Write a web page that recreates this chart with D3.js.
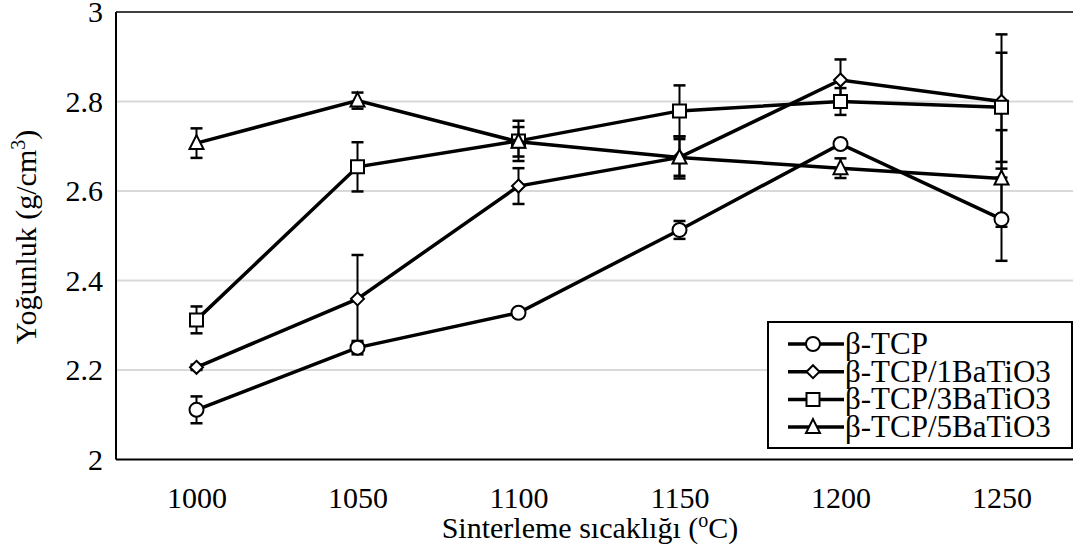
<!DOCTYPE html>
<html><head><meta charset="utf-8">
<script src="https://cdn.jsdelivr.net/npm/d3@7"></script>
<style>body{margin:0;background:#fff;} svg{display:block;} text{font-family:"Liberation Serif","Times New Roman",serif;}</style>
</head><body>
<svg id="c" width="1073" height="553"></svg>
<script>
const categories = [1000, 1050, 1100, 1150, 1200, 1250];
const yTicks = [2, 2.2, 2.4, 2.6, 2.8, 3];
const seriesNames = ["β-TCP", "β-TCP/1BaTiO3", "β-TCP/3BaTiO3", "β-TCP/5BaTiO3"];
const seriesMarkers = ["circle", "diamond", "square", "triangle"];
const tcp      = [2.111, 2.250, 2.328, 2.513, 2.705, 2.537];
const tcpErr   = [0.030, 0.015, 0.008, 0.020, 0.010, 0.093];
const ba1      = [2.206, 2.359, 2.611, 2.675, 2.848, 2.800];
const ba1Err   = [0.006, 0.098, 0.040, 0.041, 0.046, 0.150];
const ba3      = [2.312, 2.654, 2.712, 2.779, 2.800, 2.787];
const ba3Err   = [0.030, 0.055, 0.045, 0.057, 0.030, 0.122];
const ba5      = [2.707, 2.802, 2.710, 2.675, 2.651, 2.628];
const ba5Err   = [0.033, 0.018, 0.033, 0.047, 0.022, 0.108];
const values = [tcp, ba1, ba3, ba5];
const errors = [tcpErr, ba1Err, ba3Err, ba5Err];

const FONT = "Liberation Serif";
const svg = d3.select("#c");
const L = 116, R = 1082, T = 12, B = 459.5;
const x = d3.scalePoint().domain(categories).range([L, R]).padding(0.5);
const y = d3.scaleLinear().domain([2, 3]).range([B, T]);

// gridlines
svg.append("g").selectAll("line").data(yTicks.filter(d => d > 2 && d < 3)).join("line")
  .attr("x1", L).attr("x2", R).attr("y1", d => y(d)).attr("y2", d => y(d))
  .attr("stroke", "#d9d9d9").attr("stroke-width", 2);

// plot border
svg.append("line").attr("x1", L).attr("x2", R).attr("y1", T).attr("y2", T).attr("stroke", "#404040").attr("stroke-width", 2);
svg.append("line").attr("x1", L).attr("x2", L).attr("y1", T).attr("y2", B).attr("stroke", "#000").attr("stroke-width", 2);
svg.append("line").attr("x1", L).attr("x2", R).attr("y1", B).attr("y2", B).attr("stroke", "#000").attr("stroke-width", 2);

// axes labels
const yAxis = d3.axisLeft(y).tickValues(yTicks).tickSize(0).tickPadding(13).tickFormat(d3.format("~g"));
const gy = svg.append("g").attr("transform", `translate(${L},0)`).call(yAxis);
gy.select(".domain").remove();
gy.attr("font-family", FONT).attr("font-size", 30);
gy.selectAll("text").attr("fill", "#000");

const xAxis = d3.axisBottom(x).tickSize(0).tickPadding(27);
const gx = svg.append("g").attr("transform", `translate(0,${B})`).call(xAxis);
gx.select(".domain").remove();
gx.attr("font-family", FONT).attr("font-size", 30);
gx.selectAll("text").attr("fill", "#000");

// axis titles
const xt = svg.append("text").attr("x", 590).attr("y", 538).attr("text-anchor", "middle")
  .attr("font-family", FONT).attr("font-size", 30).attr("fill", "#000");
xt.append("tspan").text("Sinterleme sıcaklığı (");
xt.append("tspan").text("o").attr("font-size", 20).attr("dy", -11);
xt.append("tspan").text("C)").attr("dy", 11);

const yt = svg.append("text").attr("transform", `translate(36,237) rotate(-90)`)
  .attr("text-anchor", "middle").attr("font-family", FONT).attr("font-size", 30).attr("fill", "#000");
yt.append("tspan").text("Yoğunluk (g/cm");
yt.append("tspan").text("3").attr("font-size", 20).attr("dy", -11);
yt.append("tspan").text(")").attr("dy", 11);

function drawMarker(g, type, cx, cy) {
  const s = g.append("path").attr("fill", "#fff").attr("stroke", "#000").attr("stroke-width", 2);
  let p;
  if (type === "circle") {
    p = d3.path(); p.arc(cx, cy, 7, 0, 2 * Math.PI);
  } else if (type === "square") {
    p = d3.path(); p.rect(cx - 6.5, cy - 6.5, 13, 13);
  } else if (type === "diamond") {
    p = d3.path(); p.moveTo(cx, cy - 6.5); p.lineTo(cx + 6.5, cy); p.lineTo(cx, cy + 6.5); p.lineTo(cx - 6.5, cy); p.closePath();
  } else {
    p = d3.path(); p.moveTo(cx, cy - 8); p.lineTo(cx + 7, cy + 6); p.lineTo(cx - 7, cy + 6); p.closePath();
  }
  s.attr("d", p.toString());
}

// error bars
const eg = svg.append("g");
values.forEach((vals, si) => {
  vals.forEach((v, i) => {
    const e = errors[si][i];
    const cx = x(categories[i]);
    eg.append("line").attr("x1", cx).attr("x2", cx).attr("y1", y(v - e)).attr("y2", y(v + e)).attr("stroke", "#000").attr("stroke-width", 2);
    [v - e, v + e].forEach(w => eg.append("line").attr("x1", cx - 6).attr("x2", cx + 6).attr("y1", y(w)).attr("y2", y(w)).attr("stroke", "#000").attr("stroke-width", 2.5));
  });
});

// series lines and markers
const line = d3.line().x((d, i) => x(categories[i])).y(d => y(d));
values.forEach((vals, si) => {
  const g = svg.append("g");
  g.append("path").attr("d", line(vals)).attr("fill", "none").attr("stroke", "#000").attr("stroke-width", 3.5);
  vals.forEach((v, i) => drawMarker(g, seriesMarkers[si], x(categories[i]), y(v)));
});

// legend
const lg = svg.append("g");
lg.append("rect").attr("x", 768).attr("y", 322).attr("width", 304).attr("height", 126)
  .attr("fill", "#fff").attr("stroke", "#000").attr("stroke-width", 2);
seriesNames.forEach((name, i) => {
  const cy = 344 + i * 27.7;
  lg.append("line").attr("x1", 788).attr("x2", 844).attr("y1", cy).attr("y2", cy).attr("stroke", "#000").attr("stroke-width", 3.5);
  drawMarker(lg, seriesMarkers[i], 813, cy);
  lg.append("text").attr("x", 845).attr("y", cy + 10).attr("font-family", FONT).attr("font-size", 31).attr("fill", "#000").text(name);
});
</script>
</body></html>
